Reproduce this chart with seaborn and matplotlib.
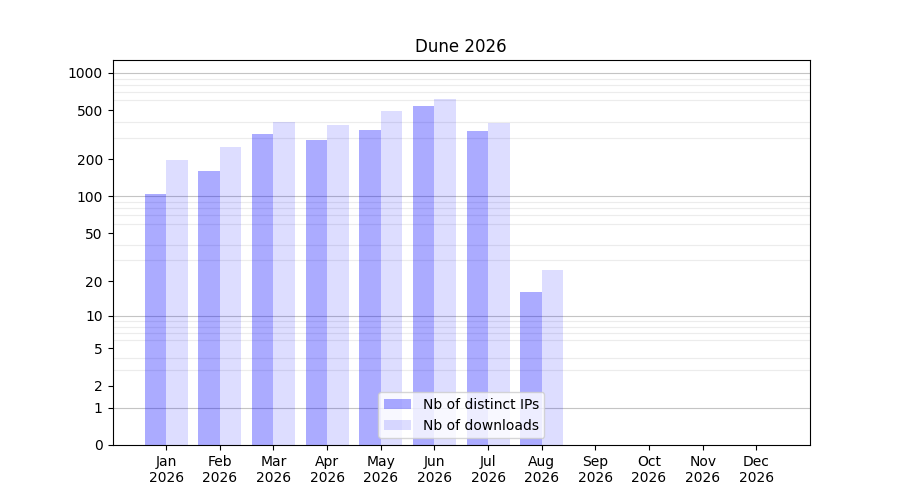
import numpy as np
import pandas as pd
import seaborn as sns
import matplotlib.pyplot as plt
from matplotlib.ticker import FixedLocator, NullFormatter

## data
months = ["Jan", "Feb", "Mar", "Apr", "May", "Jun", "Jul", "Aug", "Sep", "Oct", "Nov", "Dec"]
year = "2026"
distinct_ips = [105, 161, 321, 287, 346, 541, 340, 16, 0, 0, 0, 0]
downloads = [198, 252, 402, 380, 493, 616, 396, 25, 0, 0, 0, 0]
series_names = ["Nb of distinct IPs", "Nb of downloads"]
series_alpha = [0.33, 0.135]
ytick_values = [0, 1, 2, 5, 10, 20, 50, 100, 200, 500, 1000]

labels = [f"{m}\n{year}" for m in months]
df = pd.DataFrame({
    "month": labels * 2,
    "value": distinct_ips + downloads,
    "series": [series_names[0]] * len(months) + [series_names[1]] * len(months),
})

fig, ax = plt.subplots(figsize=(9, 5), dpi=100)

sns.barplot(data=df, x="month", y="value", hue="series", order=labels,
            hue_order=series_names, palette=["blue", "blue"], saturation=1,
            width=0.8, linewidth=0, legend=False, ax=ax, errorbar=None)

# per-series transparency
for cont, a in zip(ax.containers, series_alpha):
    for p in cont:
        p.set_facecolor((0, 0, 1, a))

# log(x+1) axis so zero fits
ax.set_yscale("function", functions=(lambda v: np.log10(np.clip(v, -0.999, None) + 1),
                                     lambda v: 10 ** v - 1))
ax.set_ylim(0, 1270)
ax.set_xlim(-1, 12)

ax.yaxis.set_major_locator(FixedLocator(ytick_values))
ax.set_yticklabels([str(v) for v in ytick_values])
minor = [m * d for d in (1, 10, 100) for m in range(2, 10)]
ax.yaxis.set_minor_locator(FixedLocator(minor))
ax.yaxis.set_minor_formatter(NullFormatter())
ax.tick_params(axis="y", which="minor", length=0)

# grid behind the translucent bars
ax.set_axisbelow(True)
ax.grid(False)
ax.grid(True, axis="y", which="minor", color="#ececec", linewidth=0.8)
for v in (1, 10, 100, 1000):
    ax.axhline(v, color="#c4c4c4", linewidth=0.8, zorder=0.6)

ax.set_xlabel("")
ax.set_ylabel("")
ax.set_title("Dune 2026")
ax.legend(handles=ax.containers, labels=series_names, loc="lower center")

fig.savefig("out.png")
